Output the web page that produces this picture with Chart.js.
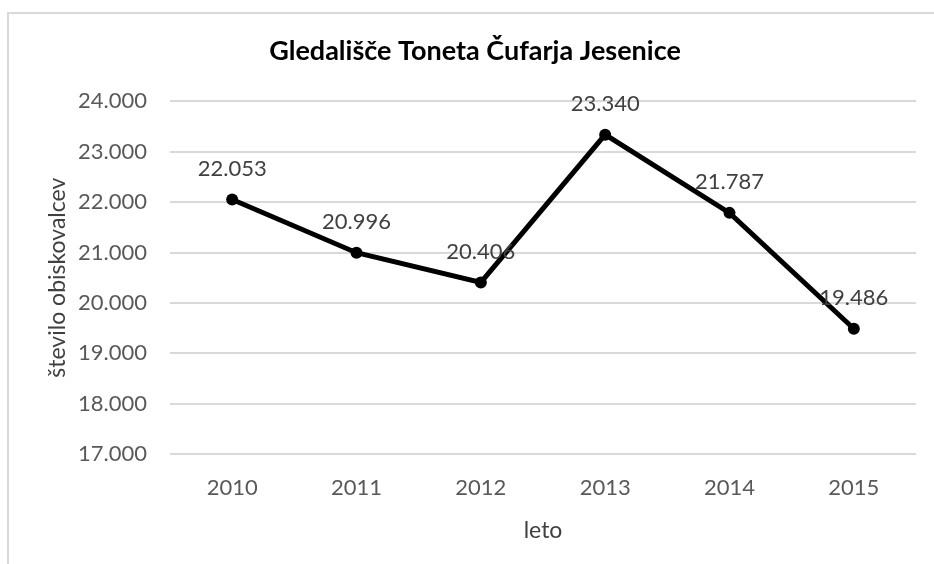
<!DOCTYPE html>
<html>
<head>
<meta charset="utf-8">
<script src="https://cdn.jsdelivr.net/npm/chart.js@4/dist/chart.umd.min.js"></script>
<style>
  html, body { margin: 0; padding: 0; background: #fff; overflow: hidden; }
  #frame { position: absolute; left: 7px; top: 12px; width: 1000px; height: 1000px;
           border-left: 2px solid #d9d9d9; border-top: 2px solid #d9d9d9; }
  #myChart { position: absolute; left: 0; top: 0; }
</style>
</head>
<body>
<div id="frame"></div>
<canvas id="myChart" width="934" height="564"></canvas>
<script>
// podatki
const years = ["2010", "2011", "2012", "2013", "2014", "2015"];
const visitors = [22053, 20996, 20406, 23340, 21787, 19486];
const yMin = 17000;
const yMax = 24000;
const yStep = 1000;

const chartTitle = "Gledališče Toneta Čufarja Jesenice";
const xTitle = "leto";
const yTitle = "število obiskovalcev";

// 24000 -> "24.000"
function fmt(v){
  let s = Math.round(v).toString();
  return s.replace(/\B(?=(\d{3})+(?!\d))/g, ".");
}

// oznake vrednosti nad tockami
const valueLabels = {
  id: 'valueLabels',
  afterDatasetsDraw(chart){
    const ctx = chart.ctx;
    const meta = chart.getDatasetMeta(0);
    ctx.save();
    ctx.font = '22px Lato';
    ctx.fillStyle = '#404040';
    ctx.textAlign = 'center';
    ctx.textBaseline = 'middle';
    meta.data.forEach((pt, i) => {
      ctx.fillText(fmt(chart.data.datasets[0].data[i]), pt.x, pt.y - 31);
    });
    ctx.restore();
  }
};

var myChart = new Chart(document.getElementById('myChart'), {
  type: 'line',
  data: {
    labels: years,
    datasets: [{
      label: yTitle,
      data: visitors,
      borderColor: '#000',
      backgroundColor: '#000',
      borderWidth: 5,
      pointRadius: 6,
      pointBackgroundColor: '#000',
      pointBorderWidth: 0,
      tension: 0
    }]
  },
  options: {
    responsive: false,
    animation: false,
    layout: { padding: { left: 34, right: 18, top: 0, bottom: 0 } },
    plugins: {
      legend: { display: false },
      tooltip: { enabled: false },
      title: {
        display: true,
        text: chartTitle,
        color: '#000',
        font: { family: 'Lato', size: 27, weight: 'bold' },
        padding: { top: 35, bottom: 34 }
      }
    },
    scales: {
      x: {
        offset: true,
        grid: { display: false, drawTicks: false },
        border: { display: false },
        ticks: { color: '#595959', font: { family: 'Lato', size: 22 }, padding: 21 },
        title: { display: true, text: xTitle, color: '#404040',
                 font: { family: 'Lato', size: 23 }, padding: { top: 0, bottom: 20 } },
        afterFit(scale){ scale.height = 110; }
      },
      y: {
        min: yMin,
        max: yMax,
        grid: { color: '#d9d9d9', lineWidth: 2, drawTicks: false },
        border: { display: false },
        ticks: { stepSize: yStep, color: '#595959', font: { family: 'Lato', size: 22 },
                 padding: 23, callback: (v) => fmt(v) },
        title: { display: true, text: yTitle, color: '#404040',
                 font: { family: 'Lato', size: 23 }, padding: { top: 10, bottom: 0 } },
        afterFit(scale){ scale.width = 136; }
      }
    }
  },
  plugins: [valueLabels]
});
</script>
</body>
</html>
